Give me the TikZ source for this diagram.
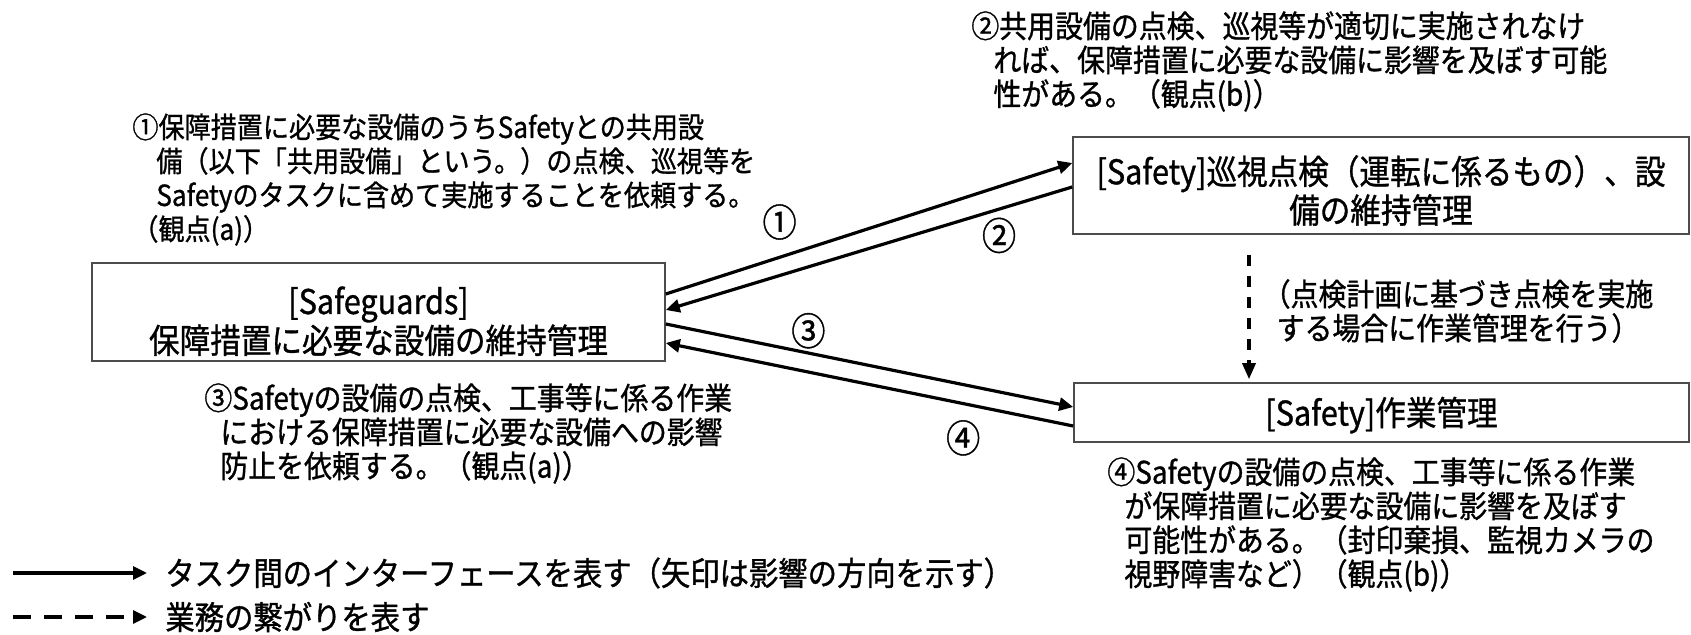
\documentclass[tikz,border=0pt]{standalone}
\usepackage{fontspec}
\setmainfont{Noto Sans CJK JP}[FakeStretch=0.9, FakeBold=1]
\usetikzlibrary{arrows.meta,positioning}

\newcommand{\notesize}{\fontsize{15.5pt}{17pt}\selectfont}
\newcommand{\tasksize}{\fontsize{17pt}{18pt}\selectfont}
\newcommand{\numsize}{\fontsize{19pt}{20pt}\selectfont}

\begin{document}
\begin{tikzpicture}[x=0.5pt, y=-0.5pt,
    task/.style={draw=black!70, line width=0.8pt, align=center, inner sep=0pt, font=\tasksize},
    note/.style={align=left, inner sep=0pt, anchor=north west, font=\notesize},
    num/.style={inner sep=0pt, font=\numsize},
    link/.style={line width=1.6pt, -{Triangle[length=7pt,width=6.5pt]}},
    flow/.style={line width=1.7pt, dash pattern=on 5.5pt off 5pt, -{Triangle[length=8pt,width=6.5pt]}}]
    \useasboundingbox (0,0) rectangle (1691,635);

    \node[task, minimum width=286.5pt, minimum height=49pt] (guard) at (378.5,312) {\rule{0pt}{23pt}[Safeguards]\\保障措置に必要な設備の維持管理};
    \node[task, minimum width=308pt, minimum height=48.5pt] (patrol) at (1381,185.5) {\rule{0pt}{19.5pt}[Safety]巡視点検（運転に係るもの）、設\\備の維持管理};
    \node[task, minimum width=307.5pt, minimum height=29.5pt] (work) at (1381.5,412.5) {\rule{0pt}{17pt}[Safety]作業管理};

    \draw[link] ([yshift=9pt]guard.east) -- ([yshift=11.25pt]patrol.west) node[num, pos=0.28, above=8pt] {①};
    \draw[link] ([yshift=-0.75pt]patrol.west) -- ([yshift=1pt]guard.east) node[num, pos=0.18, below=3.5pt] {②};
    \draw[link] ([yshift=-6pt]guard.east) -- ([yshift=2.75pt]work.west) node[num, pos=0.35, above=1.5pt] {③};
    \draw[link] ([yshift=-6.75pt]work.west) -- ([yshift=-15.5pt]guard.east) node[num, pos=0.27, below=7.5pt] {④};
    \draw[flow, shorten <=10pt, shorten >=1.5pt] ([xshift=-66pt]patrol.south) -- ([xshift=-66.25pt]work.north);

    \node[note, font=\fontsize{14.5pt}{17pt}\selectfont] (noteA) at (132,113) {①保障措置に必要な設備のうちSafetyとの共用設\\
        \hspace*{12pt}備（以下「共用設備」という。）の点検、巡視等を\\
        \hspace*{12pt}Safetyのタスクに含めて実施することを依頼する。\\
        （観点(a)）};
    \node[note] (noteB) at (971,11) {②共用設備の点検、巡視等が適切に実施されなけ\\
        \hspace*{11pt}れば、保障措置に必要な設備に影響を及ぼす可能\\
        \hspace*{11pt}性がある。（観点(b)）};
    \node[note] (noteC) at (204,383) {③Safetyの設備の点検、工事等に係る作業\\
        \hspace*{8pt}における保障措置に必要な設備への影響\\
        \hspace*{8pt}防止を依頼する。（観点(a)）};
    \node[note] (noteD) at (1107,457) {④Safetyの設備の点検、工事等に係る作業\\
        \hspace*{8.5pt}が保障措置に必要な設備に影響を及ぼす\\
        \hspace*{8.5pt}可能性がある。（封印棄損、監視カメラの\\
        \hspace*{8.5pt}視野障害など）（観点(b)）};
    \node[note, anchor=center, align=center] (plan) at (1458,311) {（点検計画に基づき点検を実施\\する場合に作業管理を行う）};

    % legend
    \coordinate (solidA) at (13,573);
    \coordinate (dashA) at (13,617);
    \node[note, anchor=west, font=\fontsize{16.3pt}{17pt}\selectfont] (legendA) at (165,573) {タスク間のインターフェースを表す（矢印は影響の方向を示す）};
    \node[note, anchor=west, font=\fontsize{16.3pt}{17pt}\selectfont] (legendB) at (165,617) {業務の繋がりを表す};
    \draw[link, shorten >=9pt] (solidA) -- (legendA.west);
    \draw[link, dash pattern=on 9pt off 6.5pt, shorten >=9pt] (dashA) -- (legendB.west);
\end{tikzpicture}
\end{document}
